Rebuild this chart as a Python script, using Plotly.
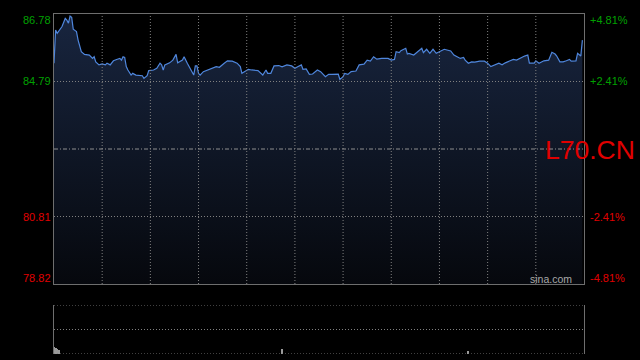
import plotly.graph_objects as go

# ---- data (minutes from session open, price) ----
minutes = [0, 1, 2, 4, 5, 7, 8, 9, 10, 11, 12, 14, 15, 17, 19, 22, 24, 25, 26, 28,
           30, 32, 33, 35, 37, 39, 41, 42, 43, 44, 45, 46, 48, 49, 51, 55, 56, 58, 59, 62,
           64, 66, 67, 68, 69, 72, 74, 76, 77, 80, 81, 83, 86, 87, 88, 89, 90, 91, 93, 96,
           99, 101, 103, 105, 106, 108, 111, 114, 116, 117, 119, 121, 123, 127, 130, 132, 133, 135, 137, 140,
           142, 145, 148, 150, 152, 154, 155, 157, 159, 161, 164, 166, 169, 171, 173, 177, 178, 180, 181, 183,
           185, 188, 190, 193, 195, 197, 199, 201, 204, 208, 210, 212, 213, 215, 216, 219, 220, 221, 224, 227,
           229, 230, 232, 234, 236, 238, 240, 243, 247, 249, 251, 253, 255, 256, 258, 260, 262, 265, 268, 270,
           272, 275, 277, 279, 281, 284, 286, 288, 290, 292, 293, 295, 296, 299, 300, 302, 305, 308, 310, 312,
           313, 315, 317, 319, 321, 322, 325, 326, 327, 328, 329]
prices = [85.33, 86.31, 86.21, 86.36, 86.41, 86.65, 86.60, 86.51, 86.72, 86.68, 86.33, 86.26, 86.01, 85.67, 85.59, 85.57, 85.47, 85.52, 85.37, 85.28,
          85.31, 85.28, 85.33, 85.28, 85.40, 85.44, 85.47, 85.42, 85.52, 85.50, 85.23, 85.13, 84.98, 85.03, 84.98, 84.96, 84.88, 84.96, 85.11, 85.13,
          85.18, 85.33, 85.28, 85.13, 85.28, 85.34, 85.42, 85.59, 85.34, 85.42, 85.52, 85.33, 85.03, 84.98, 85.25, 85.25, 85.03, 84.98, 85.08, 85.13,
          85.18, 85.23, 85.21, 85.30, 85.33, 85.40, 85.39, 85.33, 85.23, 85.03, 85.08, 85.15, 85.13, 85.11, 84.98, 85.13, 85.03, 85.03, 85.25, 85.26,
          85.22, 85.28, 85.25, 85.18, 85.23, 85.28, 85.15, 85.16, 85.00, 85.01, 85.13, 85.08, 84.93, 85.00, 85.00, 85.01, 84.85, 84.93, 85.03, 85.00,
          85.08, 85.10, 85.28, 85.30, 85.42, 85.39, 85.52, 85.45, 85.47, 85.47, 85.42, 85.44, 85.67, 85.64, 85.70, 85.77, 85.60, 85.62, 85.57, 85.70,
          85.77, 85.64, 85.74, 85.62, 85.74, 85.62, 85.67, 85.74, 85.69, 85.57, 85.52, 85.47, 85.50, 85.42, 85.33, 85.37, 85.36, 85.39, 85.39, 85.33,
          85.23, 85.30, 85.33, 85.28, 85.34, 85.40, 85.44, 85.42, 85.47, 85.52, 85.54, 85.57, 85.33, 85.33, 85.40, 85.33, 85.40, 85.42, 85.65, 85.60,
          85.54, 85.37, 85.37, 85.40, 85.44, 85.39, 85.40, 85.62, 85.57, 85.54, 86.01]

vol_minutes = [0, 1, 2, 3, 142, 258]
volumes = [3.0, 2.5, 2.0, 1.5, 2.0, 1.2]

prev_close = 82.80
price_ticks = [86.78, 84.79, 80.81, 78.82]
price_labels = ["86.78", "84.79", "80.81", "78.82"]
pct_labels = ["+4.81%", "+2.41%", "-2.41%", "-4.81%"]
label_colors = ["#00a000", "#00a000", "#e00000", "#e00000"]
label_shift = [-6, 0, 0, 6]
grid_minutes = [30, 60, 90, 120, 150, 180, 210, 240, 270, 300]
session_len = 330
vol_ticks = [0, 10, 20]
symbol = "L70.CN"

FONT = "Liberation Sans, Arial, sans-serif"
GRID = "#808080"
BORDER = "#6e6e6e"
DOT = "1px,2px"

fig = go.Figure()
fig.add_trace(go.Scatter(
    x=minutes, y=prices, mode="lines",
    line=dict(color="#4f86dc", width=1.2),
    fill="tozeroy",
    fillgradient=dict(type="vertical",
                      colorscale=[[0, "#06080d"], [1, "#18253f"]],
                      start=price_ticks[-1], stop=price_ticks[0]),
    xaxis="x", yaxis="y", hoverinfo="skip", showlegend=False))
fig.add_trace(go.Bar(
    x=vol_minutes, y=volumes, marker=dict(color="#9a9a9a", line=dict(width=0)),
    width=0.6, xaxis="x2", yaxis="y2", hoverinfo="skip", showlegend=False))

x_dom = [54 / 640, 584 / 640]
fig.update_layout(
    width=640, height=360, margin=dict(l=0, r=0, t=0, b=0),
    paper_bgcolor="black", plot_bgcolor="black",
    font=dict(family=FONT, size=11, color="#aaaaaa"),
    showlegend=False, bargap=0,
    xaxis=dict(domain=x_dom, range=[0, session_len],
               showticklabels=False, ticks="", showgrid=False, zeroline=False,
               showline=True, mirror=True, linecolor=BORDER, linewidth=1,
               fixedrange=True),
    yaxis=dict(domain=[1 - 284 / 360, 1 - 14 / 360],
               range=[price_ticks[-1], price_ticks[0]],
               showticklabels=False, ticks="", showgrid=False, zeroline=False,
               showline=True, mirror=True, linecolor=BORDER, linewidth=1,
               fixedrange=True),
    xaxis2=dict(domain=x_dom, range=[0, session_len], anchor="y2",
                showticklabels=False, ticks="", showgrid=False, zeroline=False,
                showline=False, fixedrange=True),
    yaxis2=dict(domain=[1 - 354 / 360, 1 - 305 / 360], anchor="x2",
                range=[vol_ticks[0], vol_ticks[-1]],
                showticklabels=False, ticks="", showgrid=False, zeroline=False,
                showline=True, mirror=True, linecolor=BORDER, linewidth=1,
                fixedrange=True),
)

# grid lines drawn above the area fill
for m in grid_minutes:
    fig.add_shape(type="line", xref="x", yref="y", x0=m, x1=m,
                  y0=price_ticks[-1], y1=price_ticks[0], layer="above",
                  line=dict(color=GRID, width=1, dash=DOT))
for v in price_ticks[1:-1]:
    fig.add_shape(type="line", xref="x", yref="y", x0=0, x1=session_len,
                  y0=v, y1=v, layer="above",
                  line=dict(color=GRID, width=1, dash=DOT))
for v in vol_ticks:
    fig.add_shape(type="line", xref="x2", yref="y2", x0=0, x1=session_len,
                  y0=v, y1=v, layer="above",
                  line=dict(color=GRID, width=1, dash=DOT))

# previous close dash-dot line
fig.add_shape(type="line", xref="x", yref="y", x0=0, x1=session_len,
              y0=prev_close, y1=prev_close, layer="above",
              line=dict(color="#8f8f8f", width=1, dash="4px,2px,1px,2px"))

for val, ptxt, qtxt, col, sh in zip(price_ticks, price_labels, pct_labels, label_colors, label_shift):
    fig.add_annotation(x=x_dom[0], xref="paper", y=val, yref="y", text=ptxt,
                       xanchor="right", yanchor="middle", xshift=-1, yshift=sh,
                       showarrow=False, font=dict(family=FONT, size=11, color=col))
    fig.add_annotation(x=x_dom[1], xref="paper", y=val, yref="y", text=qtxt,
                       xanchor="left", yanchor="middle", xshift=4, yshift=sh,
                       showarrow=False, font=dict(family=FONT, size=11, color=col))

fig.add_annotation(x=543 / 640, xref="paper", y=prev_close, yref="y", text=symbol,
                   xanchor="left", yanchor="middle", showarrow=False, yshift=-1,
                   font=dict(family=FONT, size=26.5, color="#e00000"))
fig.add_annotation(x=574 / 640, xref="paper", y=1 - 279 / 360, yref="paper", text="sina.com",
                   xanchor="right", yanchor="middle", showarrow=False,
                   font=dict(family=FONT, size=10.5, color="#a8a8a8"))

fig.write_html("out.html", config={"displayModeBar": False})
